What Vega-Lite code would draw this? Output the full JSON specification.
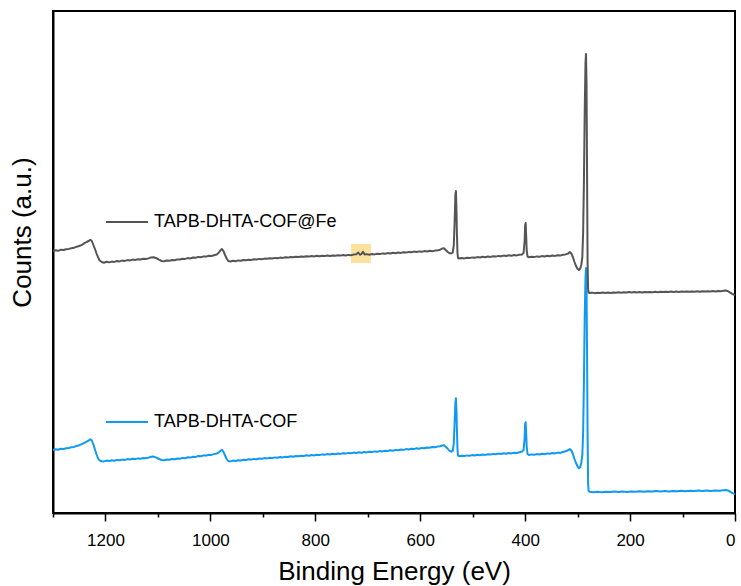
{
  "$schema": "https://vega.github.io/schema/vega-lite/v6.json",
  "width": 682,
  "height": 502,
  "autosize": {"type": "none"},
  "padding": {"left": 53, "top": 11, "right": 6, "bottom": 73},
  "background": "white",
  "config": {
    "font": "Liberation Sans",
    "view": {"stroke": "black", "strokeWidth": 2},
    "axis": {"domainColor": "black", "domainWidth": 2, "tickColor": "black", "tickWidth": 1.5, "labelColor": "black", "titleColor": "black", "titleFontWeight": "normal", "labelFontSize": 17, "titleFontSize": 26, "grid": false},
    "legend": {"labelFontSize": 18, "labelColor": "black", "labelLimit": 0, "symbolType": "stroke", "symbolStrokeWidth": 2, "symbolSize": 1764, "padding": 0, "labelOffset": 5}
  },
  "datasets": {
    "fe": [
      {"energy":1300,"counts":262},{"energy":1295,"counts":262.8},{"energy":1290,"counts":262.2},{"energy":1285,"counts":263.3},{"energy":1280,"counts":263},{"energy":1275,"counts":263.8},{"energy":1270,"counts":264.1},{"energy":1265,"counts":264.8},{"energy":1260,"counts":265.2},{"energy":1255,"counts":266.3},{"energy":1250,"counts":267},{"energy":1245,"counts":268.2},{"energy":1240,"counts":269.8},{"energy":1236,"counts":271},{"energy":1232,"counts":272},{"energy":1229,"counts":273.2},{"energy":1226,"counts":272},{"energy":1223,"counts":268},{"energy":1220,"counts":264},{"energy":1217,"counts":259.5},{"energy":1214,"counts":255.5},{"energy":1211,"counts":252.5},{"energy":1207,"counts":251},{"energy":1203,"counts":250.3},{"energy":1198,"counts":251.2},{"energy":1193,"counts":250.6},{"energy":1188,"counts":251.4},{"energy":1183,"counts":251.1},{"energy":1178,"counts":252},{"energy":1173,"counts":251.6},{"energy":1168,"counts":252.4},{"energy":1163,"counts":252.1},{"energy":1158,"counts":252.9},{"energy":1153,"counts":252.6},{"energy":1148,"counts":253.4},{"energy":1143,"counts":253.1},{"energy":1138,"counts":253.8},{"energy":1133,"counts":253.5},{"energy":1128,"counts":254.2},{"energy":1123,"counts":254},{"energy":1118,"counts":254.6},{"energy":1113,"counts":255.6},{"energy":1108,"counts":255.8},{"energy":1103,"counts":254.8},{"energy":1098,"counts":253.3},{"energy":1093,"counts":252},{"energy":1088,"counts":251.8},{"energy":1083,"counts":252.5},{"energy":1078,"counts":252.3},{"energy":1073,"counts":253},{"energy":1068,"counts":252.8},{"energy":1063,"counts":253.6},{"energy":1058,"counts":253.5},{"energy":1053,"counts":254.3},{"energy":1048,"counts":254.1},{"energy":1043,"counts":254.9},{"energy":1038,"counts":254.6},{"energy":1033,"counts":255.5},{"energy":1028,"counts":255.3},{"energy":1023,"counts":256.1},{"energy":1018,"counts":255.8},{"energy":1013,"counts":256.6},{"energy":1008,"counts":256.4},{"energy":1003,"counts":257.2},{"energy":998,"counts":257},{"energy":993,"counts":257.8},{"energy":988,"counts":258.5},{"energy":984,"counts":260.2},{"energy":981,"counts":262.5},{"energy":978,"counts":264},{"energy":975,"counts":261.8},{"energy":972,"counts":258},{"energy":969,"counts":254.5},{"energy":966,"counts":252},{"energy":962,"counts":251.5},{"energy":957,"counts":252.2},{"energy":952,"counts":251.8},{"energy":947,"counts":252.6},{"energy":942,"counts":252.3},{"energy":937,"counts":253},{"energy":932,"counts":252.7},{"energy":927,"counts":253.3},{"energy":922,"counts":253.1},{"energy":917,"counts":253.7},{"energy":912,"counts":253.5},{"energy":907,"counts":254.1},{"energy":902,"counts":253.8},{"energy":897,"counts":254.4},{"energy":892,"counts":254.2},{"energy":887,"counts":254.8},{"energy":882,"counts":254.5},{"energy":877,"counts":255.1},{"energy":872,"counts":254.8},{"energy":867,"counts":255.4},{"energy":862,"counts":255.1},{"energy":857,"counts":255.7},{"energy":852,"counts":255.4},{"energy":847,"counts":256},{"energy":842,"counts":255.7},{"energy":837,"counts":256.3},{"energy":832,"counts":256},{"energy":827,"counts":256.5},{"energy":822,"counts":256.2},{"energy":817,"counts":256.8},{"energy":812,"counts":256.4},{"energy":807,"counts":257},{"energy":802,"counts":256.6},{"energy":797,"counts":257.2},{"energy":792,"counts":256.8},{"energy":787,"counts":257.3},{"energy":782,"counts":257},{"energy":777,"counts":257.5},{"energy":772,"counts":257.1},{"energy":767,"counts":257.6},{"energy":762,"counts":257.3},{"energy":757,"counts":257.8},{"energy":752,"counts":257.4},{"energy":747,"counts":258},{"energy":742,"counts":257.5},{"energy":737,"counts":258.1},{"energy":732,"counts":257.8},{"energy":727,"counts":258.4},{"energy":722,"counts":258.8},{"energy":718,"counts":260.5},{"energy":715,"counts":258.2},{"energy":712,"counts":259.2},{"energy":709,"counts":261.3},{"energy":706,"counts":258.4},{"energy":702,"counts":258.9},{"energy":697,"counts":258.3},{"energy":692,"counts":259},{"energy":687,"counts":258.6},{"energy":682,"counts":259.3},{"energy":677,"counts":258.9},{"energy":672,"counts":259.6},{"energy":667,"counts":259.2},{"energy":662,"counts":259.9},{"energy":657,"counts":259.5},{"energy":652,"counts":260.2},{"energy":647,"counts":259.8},{"energy":642,"counts":260.5},{"energy":637,"counts":260.1},{"energy":632,"counts":260.8},{"energy":627,"counts":260.4},{"energy":622,"counts":261.1},{"energy":617,"counts":260.7},{"energy":612,"counts":261.4},{"energy":607,"counts":261},{"energy":602,"counts":261.6},{"energy":597,"counts":261.3},{"energy":592,"counts":261.9},{"energy":587,"counts":261.5},{"energy":582,"counts":262.2},{"energy":577,"counts":261.8},{"energy":572,"counts":262.4},{"energy":567,"counts":262.6},{"energy":562,"counts":263.3},{"energy":558,"counts":264.5},{"energy":555,"counts":264.8},{"energy":552,"counts":263.3},{"energy":548,"counts":261.2},{"energy":545,"counts":260},{"energy":541,"counts":259.5},{"energy":538,"counts":260.5},{"energy":536,"counts":268},{"energy":534.5,"counts":290},{"energy":533,"counts":318},{"energy":532,"counts":322},{"energy":531,"counts":305},{"energy":530,"counts":278},{"energy":529,"counts":260},{"energy":528,"counts":255},{"energy":526,"counts":254.5},{"energy":521,"counts":255},{"energy":516,"counts":254.6},{"energy":511,"counts":255.3},{"energy":506,"counts":254.9},{"energy":501,"counts":255.6},{"energy":496,"counts":255.2},{"energy":491,"counts":255.9},{"energy":486,"counts":255.5},{"energy":481,"counts":256.2},{"energy":476,"counts":255.8},{"energy":471,"counts":256.5},{"energy":466,"counts":256.1},{"energy":461,"counts":256.8},{"energy":456,"counts":256.4},{"energy":451,"counts":257.1},{"energy":446,"counts":256.7},{"energy":441,"counts":257.4},{"energy":436,"counts":257},{"energy":431,"counts":257.7},{"energy":426,"counts":257.3},{"energy":421,"counts":258},{"energy":416,"counts":257.6},{"energy":411,"counts":258.3},{"energy":406,"counts":258.5},{"energy":403,"counts":260},{"energy":401,"counts":272},{"energy":400,"counts":288},{"energy":399,"counts":290},{"energy":398,"counts":276},{"energy":397,"counts":262},{"energy":395.5,"counts":256.5},{"energy":393,"counts":255.8},{"energy":388,"counts":256.3},{"energy":383,"counts":255.9},{"energy":378,"counts":256.6},{"energy":373,"counts":256.2},{"energy":368,"counts":256.9},{"energy":363,"counts":256.5},{"energy":358,"counts":257.2},{"energy":353,"counts":256.8},{"energy":348,"counts":257.5},{"energy":343,"counts":257.1},{"energy":338,"counts":257.8},{"energy":333,"counts":257.4},{"energy":328,"counts":258.2},{"energy":323,"counts":258.6},{"energy":318,"counts":259.5},{"energy":315,"counts":261},{"energy":312,"counts":259.5},{"energy":309,"counts":256},{"energy":306,"counts":251},{"energy":303,"counts":247},{"energy":300,"counts":244},{"energy":297.5,"counts":243},{"energy":295,"counts":244.5},{"energy":293,"counts":248},{"energy":291,"counts":256},{"energy":289.5,"counts":280},{"energy":288,"counts":330},{"energy":286.5,"counts":400},{"energy":285,"counts":450},{"energy":284,"counts":459},{"energy":283,"counts":430},{"energy":282,"counts":340},{"energy":281,"counts":250},{"energy":280,"counts":224},{"energy":279,"counts":220.5},{"energy":277,"counts":220},{"energy":272,"counts":220.4},{"energy":267,"counts":219.8},{"energy":262,"counts":220.3},{"energy":257,"counts":219.9},{"energy":252,"counts":220.4},{"energy":247,"counts":220},{"energy":242,"counts":220.5},{"energy":237,"counts":220.1},{"energy":232,"counts":220.6},{"energy":227,"counts":220.2},{"energy":222,"counts":220.7},{"energy":217,"counts":220.3},{"energy":212,"counts":220.8},{"energy":207,"counts":220.4},{"energy":202,"counts":220.9},{"energy":197,"counts":220.5},{"energy":192,"counts":221},{"energy":187,"counts":220.6},{"energy":182,"counts":221},{"energy":177,"counts":220.6},{"energy":172,"counts":221.1},{"energy":167,"counts":220.7},{"energy":162,"counts":221.1},{"energy":157,"counts":220.8},{"energy":152,"counts":221.2},{"energy":147,"counts":220.8},{"energy":142,"counts":221.3},{"energy":137,"counts":220.9},{"energy":132,"counts":221.3},{"energy":127,"counts":221},{"energy":122,"counts":221.4},{"energy":117,"counts":221},{"energy":112,"counts":221.5},{"energy":107,"counts":221.1},{"energy":102,"counts":221.5},{"energy":97,"counts":221.2},{"energy":92,"counts":221.6},{"energy":87,"counts":221.2},{"energy":82,"counts":221.6},{"energy":77,"counts":221.3},{"energy":72,"counts":221.7},{"energy":67,"counts":221.3},{"energy":62,"counts":221.8},{"energy":57,"counts":221.4},{"energy":52,"counts":221.8},{"energy":47,"counts":221.5},{"energy":42,"counts":221.9},{"energy":37,"counts":221.6},{"energy":32,"counts":222},{"energy":27,"counts":221.7},{"energy":22,"counts":222.2},{"energy":18,"counts":222.4},{"energy":14,"counts":222},{"energy":10,"counts":220.6},{"energy":6,"counts":219.3},{"energy":3,"counts":218.5},{"energy":0,"counts":218}
    ],
    "cof": [
      {"energy":1300,"counts":63},{"energy":1295,"counts":63.7},{"energy":1290,"counts":63.3},{"energy":1285,"counts":64.2},{"energy":1280,"counts":64},{"energy":1275,"counts":64.8},{"energy":1270,"counts":65},{"energy":1265,"counts":65.7},{"energy":1260,"counts":66.1},{"energy":1255,"counts":67},{"energy":1250,"counts":67.8},{"energy":1245,"counts":68.9},{"energy":1240,"counts":70.2},{"energy":1236,"counts":71.3},{"energy":1232,"counts":72.4},{"energy":1229,"counts":73.7},{"energy":1226,"counts":72.5},{"energy":1223,"counts":68.5},{"energy":1220,"counts":63.5},{"energy":1217,"counts":58.5},{"energy":1214,"counts":54.5},{"energy":1211,"counts":52.5},{"energy":1207,"counts":51.8},{"energy":1203,"counts":51.6},{"energy":1198,"counts":52.4},{"energy":1193,"counts":51.9},{"energy":1188,"counts":52.7},{"energy":1183,"counts":52.3},{"energy":1178,"counts":53.1},{"energy":1173,"counts":52.7},{"energy":1168,"counts":53.4},{"energy":1163,"counts":53.1},{"energy":1158,"counts":53.9},{"energy":1153,"counts":53.5},{"energy":1148,"counts":54.2},{"energy":1143,"counts":53.9},{"energy":1138,"counts":54.6},{"energy":1133,"counts":54.3},{"energy":1128,"counts":55},{"energy":1123,"counts":54.7},{"energy":1118,"counts":55.4},{"energy":1113,"counts":56.2},{"energy":1108,"counts":56.4},{"energy":1103,"counts":55.4},{"energy":1098,"counts":54},{"energy":1093,"counts":53},{"energy":1088,"counts":52.8},{"energy":1083,"counts":53.5},{"energy":1078,"counts":53.2},{"energy":1073,"counts":54},{"energy":1068,"counts":53.7},{"energy":1063,"counts":54.5},{"energy":1058,"counts":54.3},{"energy":1053,"counts":55.1},{"energy":1048,"counts":54.8},{"energy":1043,"counts":55.7},{"energy":1038,"counts":55.4},{"energy":1033,"counts":56.3},{"energy":1028,"counts":56.1},{"energy":1023,"counts":57},{"energy":1018,"counts":56.8},{"energy":1013,"counts":57.6},{"energy":1008,"counts":57.4},{"energy":1003,"counts":58.3},{"energy":998,"counts":58.1},{"energy":993,"counts":58.9},{"energy":988,"counts":59.5},{"energy":984,"counts":60.6},{"energy":981,"counts":62},{"energy":978,"counts":63.2},{"energy":975,"counts":61.2},{"energy":972,"counts":57.5},{"energy":969,"counts":54},{"energy":966,"counts":52},{"energy":962,"counts":51.6},{"energy":957,"counts":52.4},{"energy":952,"counts":52},{"energy":947,"counts":52.8},{"energy":942,"counts":52.5},{"energy":937,"counts":53.3},{"energy":932,"counts":53},{"energy":927,"counts":53.7},{"energy":922,"counts":53.4},{"energy":917,"counts":54.1},{"energy":912,"counts":53.8},{"energy":907,"counts":54.5},{"energy":902,"counts":54.2},{"energy":897,"counts":54.9},{"energy":892,"counts":54.6},{"energy":887,"counts":55.2},{"energy":882,"counts":54.9},{"energy":877,"counts":55.6},{"energy":872,"counts":55.3},{"energy":867,"counts":56},{"energy":862,"counts":55.6},{"energy":857,"counts":56.3},{"energy":852,"counts":56},{"energy":847,"counts":56.7},{"energy":842,"counts":56.3},{"energy":837,"counts":57},{"energy":832,"counts":56.7},{"energy":827,"counts":57.3},{"energy":822,"counts":57},{"energy":817,"counts":57.7},{"energy":812,"counts":57.3},{"energy":807,"counts":58},{"energy":802,"counts":57.6},{"energy":797,"counts":58.3},{"energy":792,"counts":57.9},{"energy":787,"counts":58.6},{"energy":782,"counts":58.2},{"energy":777,"counts":58.9},{"energy":772,"counts":58.5},{"energy":767,"counts":59.2},{"energy":762,"counts":58.8},{"energy":757,"counts":59.5},{"energy":752,"counts":59.1},{"energy":747,"counts":59.8},{"energy":742,"counts":59.4},{"energy":737,"counts":60.1},{"energy":732,"counts":59.7},{"energy":727,"counts":60.4},{"energy":722,"counts":60},{"energy":717,"counts":60.7},{"energy":712,"counts":60.3},{"energy":707,"counts":61},{"energy":702,"counts":60.6},{"energy":697,"counts":61.3},{"energy":692,"counts":60.9},{"energy":687,"counts":61.6},{"energy":682,"counts":61.2},{"energy":677,"counts":61.9},{"energy":672,"counts":61.6},{"energy":667,"counts":62.3},{"energy":662,"counts":62},{"energy":657,"counts":62.7},{"energy":652,"counts":62.3},{"energy":647,"counts":63.1},{"energy":642,"counts":62.7},{"energy":637,"counts":63.5},{"energy":632,"counts":63.1},{"energy":627,"counts":63.9},{"energy":622,"counts":63.5},{"energy":617,"counts":64.3},{"energy":612,"counts":63.9},{"energy":607,"counts":64.7},{"energy":602,"counts":64.3},{"energy":597,"counts":65.1},{"energy":592,"counts":64.7},{"energy":587,"counts":65.5},{"energy":582,"counts":65.2},{"energy":577,"counts":66},{"energy":572,"counts":65.7},{"energy":567,"counts":66.4},{"energy":562,"counts":66.8},{"energy":558,"counts":67.5},{"energy":555,"counts":67.8},{"energy":552,"counts":66.5},{"energy":548,"counts":64.5},{"energy":545,"counts":62.5},{"energy":541,"counts":61.3},{"energy":538,"counts":62},{"energy":536,"counts":70},{"energy":534.5,"counts":90},{"energy":533,"counts":110},{"energy":532,"counts":114.7},{"energy":531,"counts":104},{"energy":530,"counts":82},{"energy":529,"counts":64},{"energy":528,"counts":57.5},{"energy":526,"counts":56.7},{"energy":521,"counts":57.3},{"energy":516,"counts":56.9},{"energy":511,"counts":57.6},{"energy":506,"counts":57.2},{"energy":501,"counts":57.9},{"energy":496,"counts":57.5},{"energy":491,"counts":58.2},{"energy":486,"counts":57.8},{"energy":481,"counts":58.5},{"energy":476,"counts":58.1},{"energy":471,"counts":58.8},{"energy":466,"counts":58.4},{"energy":461,"counts":59.1},{"energy":456,"counts":58.7},{"energy":451,"counts":59.4},{"energy":446,"counts":59},{"energy":441,"counts":59.7},{"energy":436,"counts":59.3},{"energy":431,"counts":60},{"energy":426,"counts":59.6},{"energy":421,"counts":60.3},{"energy":416,"counts":60},{"energy":411,"counts":60.7},{"energy":406,"counts":61.5},{"energy":403,"counts":63},{"energy":401,"counts":75},{"energy":400,"counts":89},{"energy":399,"counts":90.7},{"energy":398,"counts":79},{"energy":397,"counts":66},{"energy":395.5,"counts":59},{"energy":393,"counts":58},{"energy":388,"counts":58.6},{"energy":383,"counts":58.2},{"energy":378,"counts":58.9},{"energy":373,"counts":58.5},{"energy":368,"counts":59.2},{"energy":363,"counts":58.8},{"energy":358,"counts":59.6},{"energy":353,"counts":59.2},{"energy":348,"counts":60},{"energy":343,"counts":59.6},{"energy":338,"counts":60.4},{"energy":333,"counts":60.1},{"energy":328,"counts":61},{"energy":323,"counts":61.8},{"energy":318,"counts":62.8},{"energy":315,"counts":64},{"energy":312,"counts":62.5},{"energy":309,"counts":59},{"energy":306,"counts":54},{"energy":303,"counts":50},{"energy":300,"counts":46.5},{"energy":297.5,"counts":44.7},{"energy":295,"counts":46},{"energy":293,"counts":50},{"energy":291,"counts":58},{"energy":289.5,"counts":80},{"energy":288,"counts":130},{"energy":286.5,"counts":195},{"energy":285,"counts":235},{"energy":284,"counts":245},{"energy":283,"counts":225},{"energy":282,"counts":160},{"energy":281,"counts":80},{"energy":280,"counts":30},{"energy":279,"counts":22},{"energy":277,"counts":21.2},{"energy":270,"counts":20.8},{"energy":262,"counts":21.2},{"energy":254,"counts":20.8},{"energy":246,"counts":21.3},{"energy":238,"counts":20.9},{"energy":230,"counts":21.4},{"energy":222,"counts":21},{"energy":214,"counts":21.5},{"energy":206,"counts":21.1},{"energy":198,"counts":21.6},{"energy":190,"counts":21.2},{"energy":182,"counts":21.7},{"energy":174,"counts":21.3},{"energy":166,"counts":21.8},{"energy":158,"counts":21.4},{"energy":150,"counts":21.9},{"energy":142,"counts":21.5},{"energy":134,"counts":22},{"energy":126,"counts":21.6},{"energy":118,"counts":22.1},{"energy":110,"counts":21.7},{"energy":102,"counts":22.2},{"energy":94,"counts":21.8},{"energy":86,"counts":22.3},{"energy":78,"counts":21.9},{"energy":70,"counts":22.4},{"energy":62,"counts":22},{"energy":54,"counts":22.5},{"energy":46,"counts":22.1},{"energy":38,"counts":22.6},{"energy":30,"counts":22.3},{"energy":22,"counts":22.8},{"energy":16,"counts":22.9},{"energy":12,"counts":22.2},{"energy":8,"counts":20.8},{"energy":4,"counts":19.6},{"energy":0,"counts":19}
    ],
    "mark": [{"start": 732, "end": 694, "low": 250, "high": 269}]
  },
  "layer": [
    {
      "data": {"name": "mark"},
      "mark": {"type": "rect", "color": "#FCDF92", "opacity": 0.9},
      "encoding": {
        "x": {"field": "start", "type": "quantitative", "scale": {"domain": [0, 1300], "reverse": true, "nice": false, "zero": false},
              "axis": {"orient": "bottom", "values": [100, 300, 500, 700, 900, 1100, 1300], "labels": false, "tickSize": 4, "domain": false, "title": null}},
        "x2": {"field": "end"},
        "y": {"field": "low", "type": "quantitative", "scale": {"domain": [0, 502], "nice": false, "zero": false},
              "axis": {"title": "Counts (a.u.)", "ticks": false, "labels": false, "titleAngle": -90, "titleX": -31, "titleY": 221, "titleAlign": "center", "titleBaseline": "middle"}},
        "y2": {"field": "high"}
      }
    },
    {
      "data": {"name": "cof"},
      "mark": {"type": "line", "strokeWidth": 2, "strokeJoin": "round"},
      "encoding": {
        "x": {"field": "energy", "type": "quantitative",
              "axis": {"orient": "bottom", "values": [0, 200, 400, 600, 800, 1000, 1200], "format": "d", "tickSize": 8, "labelPadding": 11, "title": "Binding Energy (eV)", "titlePadding": 10}},
        "y": {"field": "counts", "type": "quantitative"},
        "color": {"datum": "TAPB-DHTA-COF", "type": "nominal",
                  "scale": {"domain": ["TAPB-DHTA-COF@Fe", "TAPB-DHTA-COF"], "range": ["#555555", "#0F99F2"]},
                  "legend": {"title": null, "orient": "none", "legendX": 52, "legendY": 189, "rowPadding": 169}}
      }
    },
    {
      "data": {"name": "fe"},
      "mark": {"type": "line", "strokeWidth": 2, "strokeJoin": "round"},
      "encoding": {
        "x": {"field": "energy", "type": "quantitative", "axis": null},
        "y": {"field": "counts", "type": "quantitative"},
        "color": {"datum": "TAPB-DHTA-COF@Fe", "type": "nominal"}
      }
    }
  ],
  "resolve": {"axis": {"x": "independent"}}
}
